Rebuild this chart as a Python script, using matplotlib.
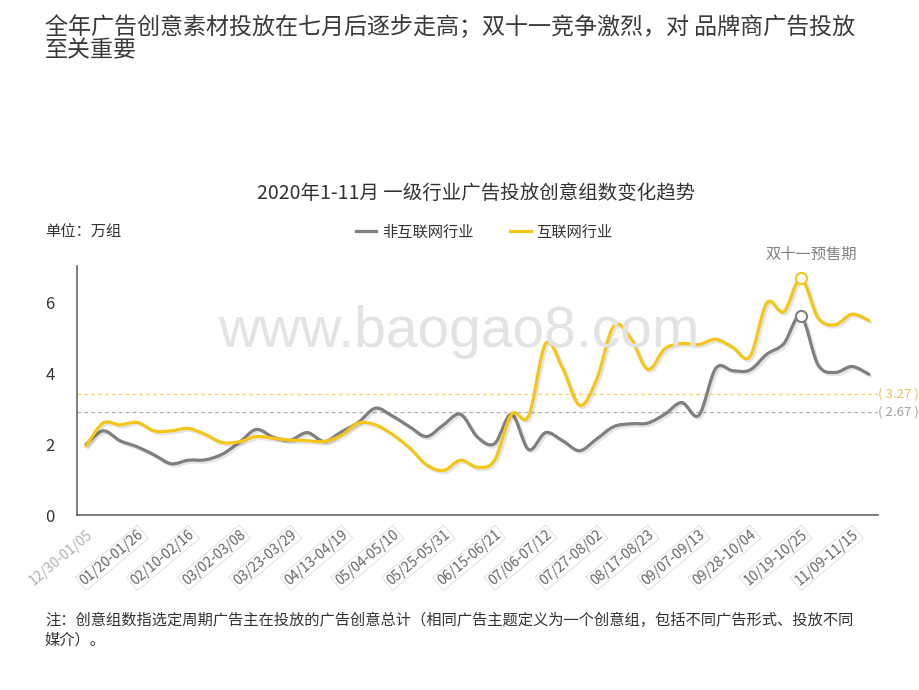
import numpy as np
import matplotlib
matplotlib.use('Agg')
import matplotlib.pyplot as plt
from matplotlib.path import Path
from matplotlib.patches import PathPatch
import matplotlib.patheffects as pe

plt.rcParams['font.family'] = ['Noto Sans CJK SC', 'DejaVu Sans']

# 周数据（2019/12/30 起每周一个点）
weeks = np.arange(47)
non_internet = [2.00, 2.38, 2.10, 1.93, 1.70, 1.45, 1.55, 1.56, 1.72, 2.05,
                2.42, 2.20, 2.12, 2.33, 2.08, 2.35, 2.62, 3.02, 2.80, 2.50,
                2.22, 2.55, 2.85, 2.20, 2.02, 2.85, 1.85, 2.33, 2.10, 1.82,
                2.15, 2.50, 2.58, 2.60, 2.85, 3.18, 2.82, 4.15, 4.08, 4.10,
                4.55, 4.85, 5.63, 4.25, 4.03, 4.20, 3.98]
internet = [1.95, 2.60, 2.55, 2.62, 2.38, 2.38, 2.45, 2.28, 2.05, 2.07,
            2.22, 2.17, 2.12, 2.10, 2.08, 2.25, 2.60, 2.55, 2.28, 1.90,
            1.42, 1.26, 1.55, 1.35, 1.55, 2.85, 2.80, 4.85, 4.15, 3.10,
            3.84, 5.35, 5.00, 4.12, 4.70, 4.85, 4.82, 4.97, 4.74, 4.48,
            6.00, 5.75, 6.69, 5.58, 5.38, 5.68, 5.50]
week_labels = ['12/30-01/05', '01/20-01/26', '02/10-02/16', '03/02-03/08',
               '03/23-03/29', '04/13-04/19', '05/04-05/10', '05/25-05/31',
               '06/15-06/21', '07/06-07/12', '07/27-08/02', '08/17-08/23',
               '09/07-09/13', '09/28-10/04', '10/19-10/25', '11/09-11/15']
avg_line_pos = {'non': 2.90, 'int': 3.41}   # 图中虚线位置
avg_text = {'non': '( 2.67 )', 'int': '( 3.27 )'}
peak_week = 42

GRAY = '#7f7f7f'
YELLOW = '#f5c518'


def smooth_path(xs, ys, t=1.0):
    # Catmull-Rom -> 三次贝塞尔，平滑折线
    pts = np.column_stack([xs, ys]).astype(float)
    n = len(pts)
    verts = [pts[0]]
    codes = [Path.MOVETO]
    for i in range(n - 1):
        p0 = pts[max(i - 1, 0)]
        p1 = pts[i]
        p2 = pts[i + 1]
        p3 = pts[min(i + 2, n - 1)]
        c1 = p1 + (p2 - p0) / 6 * t
        c2 = p2 - (p3 - p1) / 6 * t
        verts += [c1, c2, p2]
        codes += [Path.CURVE4] * 3
    return Path(verts, codes)


fig = plt.figure(figsize=(9.2, 6.9), dpi=100)
ax = fig.add_axes([0.0837, 0.2536, 0.8707, 0.3613])

for key, color in [('int', '#f7d25a'), ('non', '#b0b0b0')]:
    ax.axhline(avg_line_pos[key], color=color, lw=0.9, ls=(0, (3, 2.5)), zorder=1)
    ax.text(1.0, avg_line_pos[key], avg_text[key], transform=ax.get_yaxis_transform(),
            ha='left', va='center', fontsize=9.5,
            color='#e8c25a' if key == 'int' else '#a0a0a0')

for ys, color in [(non_internet, GRAY), (internet, YELLOW)]:
    patch = PathPatch(smooth_path(weeks, ys), fill=False, edgecolor=color, lw=2.3,
                      capstyle='round', joinstyle='round', zorder=3)
    patch.set_path_effects([pe.SimpleLineShadow(offset=(1.5, -1.5), shadow_color='k',
                                                alpha=0.1), pe.Normal()])
    ax.add_patch(patch)
    ax.plot([weeks[peak_week]], [ys[peak_week]], 'o', ms=8, mfc='white', mec=color,
            mew=1.5, zorder=4)

ax.text(weeks[peak_week] + 0.6, 7.38, '双十一预售期', ha='center', va='center',
        fontsize=11, color='#808080', clip_on=False)

ax.set_xlim(-0.53, 46.53)
ax.set_ylim(0, 7.05)
ax.set_yticks([0, 2, 4, 6])
ax.tick_params(axis='y', length=0, pad=16, labelsize=12, labelcolor='#333333')
ax.set_xticks(weeks[::3])
ax.set_xticklabels(week_labels, rotation=40, ha='right', va='top',
                   rotation_mode='anchor', fontsize=10, color='#666666')
ax.tick_params(axis='x', length=0, pad=9)
for i, lab in enumerate(ax.get_xticklabels()):
    if i == 0:
        lab.set_color('#b0b0b0')
    else:
        lab.set_bbox(dict(boxstyle='square,pad=0.12', fc='none', ec='#dcdcdc', lw=0.6))
for s in ['top', 'right']:
    ax.spines[s].set_visible(False)
for s in ['left', 'bottom']:
    ax.spines[s].set_color('#595959')
    ax.spines[s].set_linewidth(1.1)

# 水印
fig.text(218 / 920, 1 - 347 / 690, 'www.baogao8.com', family='Liberation Sans',
         fontsize=41, color='#e3e3e3', ha='left', va='baseline', zorder=0)

# 图例
h1, = ax.plot([], [], color=GRAY, lw=2.3, label='非互联网行业')
h2, = ax.plot([], [], color=YELLOW, lw=2.3, label='互联网行业')
fig.legend(handles=[h1, h2], loc='center', bbox_to_anchor=(484 / 920, 1 - 232 / 690),
           ncol=2, frameon=False, fontsize=11, handlelength=1.35, handletextpad=0.35,
           columnspacing=2.4, labelcolor='#333333')

fig.text(45 / 920, 1 - 232 / 690, '单位：万组', fontsize=11, color='#333333', va='center')
fig.text(476 / 920, 1 - 193 / 690, '2020年1-11月 一级行业广告投放创意组数变化趋势',
         fontsize=14, color='#333333', ha='center', va='center')

fig.text(45 / 920, 1 - 27 / 690,
         '全年广告创意素材投放在七月后逐步走高；双十一竞争激烈，对 品牌商广告投放',
         fontsize=16.6, color='#3a3a3a', va='center', fontweight='light')
fig.text(45 / 920, 1 - 51 / 690, '至关重要', fontsize=16.6, color='#3a3a3a', va='center',
         fontweight='light')

fig.text(45 / 920, 1 - 620 / 690,
         '注：创意组数指选定周期广告主在投放的广告创意总计（相同广告主题定义为一个创意组，包括不同广告形式、投放不同',
         fontsize=11.0, color='#333333', va='center')
fig.text(45 / 920, 1 - 640 / 690, '媒介）。', fontsize=11.0, color='#333333', va='center')

fig.savefig('out.png', dpi=100)
